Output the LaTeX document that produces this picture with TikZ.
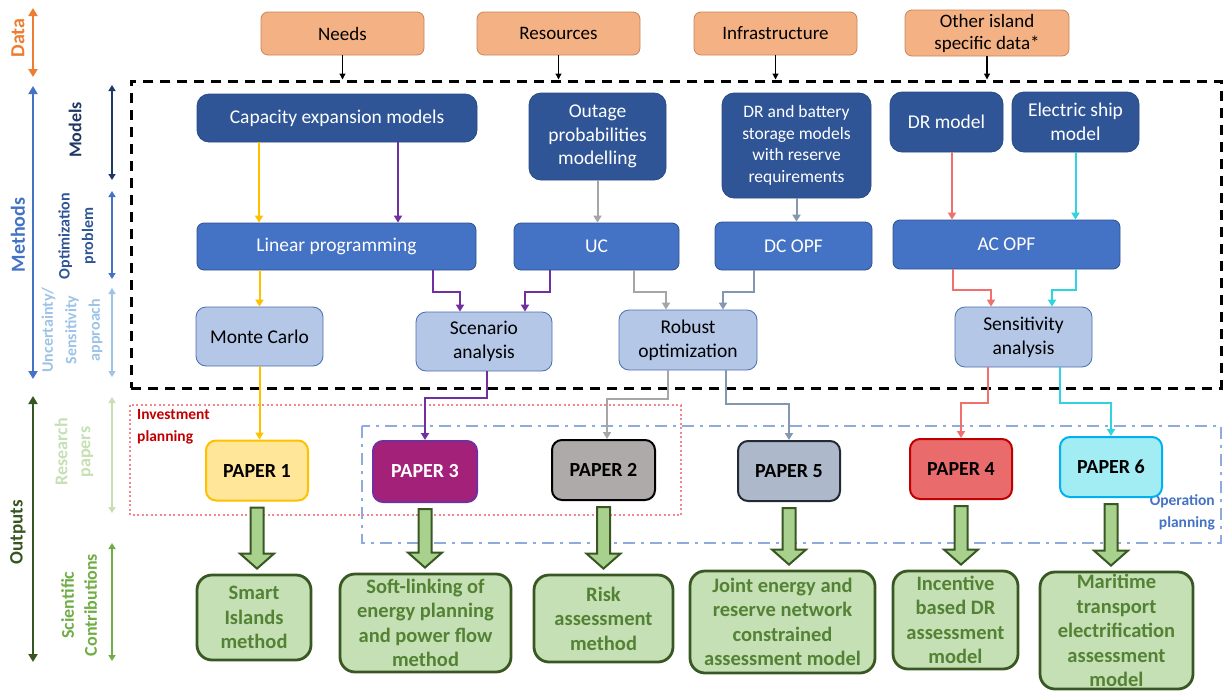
\documentclass[tikz,border=0pt]{standalone}
\usepackage{fontspec}
\setmainfont{Carlito}
\usetikzlibrary{arrows.meta,calc}
\definecolor{datafill}{HTML}{F4B183}
\definecolor{dataline}{HTML}{C9845A}
\definecolor{modfill}{HTML}{2F5597}
\definecolor{modline}{HTML}{2A4B84}
\definecolor{optfill}{HTML}{4472C4}
\definecolor{optline}{HTML}{2F528F}
\definecolor{uncfill}{HTML}{B4C7E7}
\definecolor{uncline}{HTML}{4A6DAF}
\definecolor{cfill}{HTML}{C5E0B4}
\definecolor{cline}{HTML}{385723}
\definecolor{ctext}{HTML}{548235}
\definecolor{arrfill}{HTML}{A9D18E}
\definecolor{cyel}{HTML}{FFC000}
\definecolor{cpur}{HTML}{7030A0}
\definecolor{cgray}{HTML}{A6A6A6}
\definecolor{cbgray}{HTML}{8497B0}
\definecolor{csal}{HTML}{F0706B}
\definecolor{ccyan}{HTML}{30D4DE}
\definecolor{p1fill}{HTML}{FFE699}
\definecolor{p3fill}{HTML}{A4217A}
\definecolor{p2fill}{HTML}{AEAAAA}
\definecolor{p5fill}{HTML}{ADB9CA}
\definecolor{p5line}{HTML}{222A35}
\definecolor{p4fill}{HTML}{EA6B6B}
\definecolor{p4line}{HTML}{C00000}
\definecolor{p6fill}{HTML}{A1EDF3}
\definecolor{p6line}{HTML}{00B0F0}
\definecolor{invred}{HTML}{C00000}
\definecolor{invbox}{HTML}{F4858A}
\definecolor{opblue}{HTML}{4472C4}
\definecolor{opbox}{HTML}{8FAADC}
\definecolor{axdata}{HTML}{ED7D31}
\definecolor{axmeth}{HTML}{4472C4}
\definecolor{axout}{HTML}{375623}
\definecolor{axmod}{HTML}{203864}
\definecolor{axopt}{HTML}{2F5597}
\definecolor{axunc}{HTML}{9DC3E6}
\definecolor{axres}{HTML}{C5E0B4}
\definecolor{axsci}{HTML}{70AD47}
\newcommand\fsz[2]{\fontsize{#1pt}{#2pt}\selectfont}
\newcommand\blockarr[2]{\draw[bigarr] let \p1=(#1.south), \p2=(#2.north) in
  (\x1-6.5pt,\y1-6pt) -- (\x1+6.5pt,\y1-6pt) -- (\x1+6.5pt,\y2+20pt) -- (\x1+17pt,\y2+20pt)
  -- (\x1,\y2+5pt) -- (\x1-17pt,\y2+20pt) -- (\x1-6.5pt,\y2+20pt) -- cycle;}
\tikzset{
  sz/.style 2 args={minimum width=#1pt, minimum height=#2pt},
  databox/.style={draw=dataline, fill=datafill, line width=0.8pt, rounded corners=7pt, font=\fsz{19}{22}, align=center, inner sep=0pt},
  modelbox/.style={draw=modline, fill=modfill, line width=0.8pt, rounded corners=12pt, text=white, font=\fsz{19.5}{23.5}, align=center, inner sep=0pt},
  optbox/.style={draw=optline, fill=optfill, line width=0.8pt, rounded corners=7pt, text=white, font=\fsz{19.5}{23.5}, align=center, inner sep=0pt},
  uncbox/.style={draw=uncline, fill=uncfill, line width=0.8pt, rounded corners=10pt, text=black, font=\fsz{19.5}{24}, align=center, inner sep=0pt},
  paper/.style={line width=2pt, rounded corners=10pt, font=\bfseries\fsz{20}{22}, sz={102}{60}, align=center, inner sep=0pt},
  contrib/.style={draw=cline, fill=cfill, line width=2.8pt, rounded corners=15pt, text=ctext, font=\bfseries\fsz{20.5}{24.5}, align=center, inner sep=0pt},
  conn/.style={line width=2pt, -{Triangle[length=7pt,width=8pt]}},
  dataarr/.style={line width=1.2pt, -{Triangle[length=6pt,width=6pt]}},
  bigarr/.style={draw=cline, fill=arrfill, line width=2pt, line join=miter},
  axisarr/.style={line width=2.5pt, {Triangle[length=8pt,width=9pt]}-{Triangle[length=8pt,width=9pt]}},
  subarr/.style={line width=1.6pt, {Triangle[length=6pt,width=7pt]}-{Triangle[length=6pt,width=7pt]}},
  axislabel/.style={rotate=90, font=\bfseries\fsz{20}{22}, align=center, inner sep=0pt},
  sublabel/.style={rotate=90, font=\bfseries\fsz{18}{23}, align=center, inner sep=0pt},
  sublabelsm/.style={rotate=90, font=\bfseries\fsz{16}{23.5}, align=center, inner sep=0pt},
  planlabel/.style={font=\bfseries\fsz{15.5}{22.5}, inner sep=0pt},
}
\begin{document}
\begin{tikzpicture}[x=1pt,y=-1pt]
\useasboundingbox (0,0) rectangle (1224,691);

% ---- left axis ----
\coordinate (da1) at (33,8);   \coordinate (da2) at (33,77);
\coordinate (me1) at (33,86);  \coordinate (me2) at (33,379);
\coordinate (ou1) at (33,396); \coordinate (ou2) at (33,662);
\draw[axisarr, axdata] (da1) -- (da2);
\draw[axisarr, axmeth] (me1) -- (me2);
\draw[axisarr, axout] (ou1) -- (ou2);
\node[axislabel, text=axdata] (lData) at (18,38) {Data};
\node[axislabel, text=axmeth] (lMeth) at (18,235) {Methods};
\node[axislabel, text=axout, font=\bfseries\fsz{19}{22}] (lOut) at (18,532) {Outputs};

\coordinate (sm1) at (112,85);  \coordinate (sm2) at (112,180);
\coordinate (so1) at (112,191); \coordinate (so2) at (112,279);
\coordinate (su1) at (112,288); \coordinate (su2) at (112,377);
\coordinate (sr1) at (112,397); \coordinate (sr2) at (112,513);
\coordinate (ss1) at (112,543); \coordinate (ss2) at (112,661);
\draw[subarr, axmod] (sm1) -- (sm2);
\draw[subarr, axmeth] (so1) -- (so2);
\draw[subarr, axunc] (su1) -- (su2);
\draw[subarr, axres] (sr1) -- (sr2);
\draw[subarr, axsci] (ss1) -- (ss2);
\node[sublabel, text=axmod] (lMod) at (75,130) {Models};
\node[sublabelsm, text=axopt] (lOpt) at (77,236) {Optimization\\problem};
\node[sublabelsm, text=axunc] (lUnc) at (72,330) {Uncertainty/\\Sensitivity\\approach};
\node[sublabel, text=axres] (lRes) at (74,452) {Research\\papers};
\node[sublabel, text=axsci] (lSci) at (79,605) {Scientific\\Contributions};

% ---- planning frames ----
\draw[invbox, line width=2pt, dash pattern=on 2pt off 2.5pt] (130,405) rectangle (681,515);
\draw[opbox, line width=2pt, dash pattern=on 12pt off 6pt on 3pt off 6pt] (362,426) rectangle (1221,543);
\node[planlabel, text=invred, anchor=north west, align=left] (linv) at (137,409) {Investment\\planning};
\node[planlabel, text=opblue, anchor=north east, align=right] (lop) at (1215,494) {Operation\\planning};

% ---- methods frame ----
\node[draw=black, line width=3pt, dash pattern=on 10pt off 7pt, sz={1090}{307}, inner sep=0pt] (meth) at (676,234.5) {};

% ---- data ----
\node[databox, sz={163}{43}] (d1) at (342.5,33.5) {Needs};
\node[databox, sz={163}{43}] (d2) at (558.5,33.5) {Resources};
\node[databox, sz={163}{43}] (d3) at (775.5,33.5) {Infrastructure};
\node[databox, sz={164}{46}] (d4) at (987,33) {Other island\\specific data*};
\foreach \n in {d1,d2,d3,d4} \draw[dataarr] (\n.south) -- (\n.south |- meth.north);

% ---- models ----
\node[modelbox, sz={280}{48}] (m1) at (337,118) {Capacity expansion models};
\node[modelbox, sz={137}{87}] (m2) at (597.5,136.5) {Outage\\probabilities\\modelling};
\node[modelbox, sz={149}{105}, font=\fsz{17.5}{21.5}] (m3) at (796.5,145.5) {DR and battery\\storage models\\with reserve\\requirements};
\node[modelbox, sz={113}{60}] (m4) at (946.5,122) {DR model};
\node[modelbox, sz={127}{60}] (m5) at (1075.5,122) {Electric ship\\model};

% ---- optimization ----
\node[optbox, sz={279}{47}] (o1) at (336.5,246.5) {Linear programming};
\node[optbox, sz={165}{47}] (o2) at (596.5,246.5) {UC};
\node[optbox, sz={157}{48}] (o3) at (793.5,246) {DC OPF};
\node[optbox, sz={227}{49}] (o4) at (1006.5,244.5) {AC OPF};

% ---- uncertainty ----
\node[uncbox, sz={127}{59}] (u1) at (259.5,336.5) {Monte Carlo};
\node[uncbox, sz={136}{59}] (u2) at (484,341.5) {Scenario\\analysis};
\node[uncbox, sz={138}{60}] (u3) at (688,340) {Robust\\optimization};
\node[uncbox, sz={137}{60}] (u4) at (1023.5,337) {Sensitivity\\analysis};

% ---- papers ----
\node[paper, draw=cyel, fill=p1fill] (p1) at (257,470.5) {PAPER 1};
\node[paper, draw=cpur, fill=p3fill, text=white, sz={104}{61}] (p3) at (425,471.5) {PAPER 3};
\node[paper, draw=black, fill=p2fill, sz={103}{60}] (p2) at (603.5,470) {PAPER 2};
\node[paper, draw=p5line, fill=p5fill] (p5) at (789,471) {PAPER 5};
\node[paper, draw=p4line, fill=p4fill] (p4) at (961,469) {PAPER 4};
\node[paper, draw=p6line, fill=p6fill] (p6) at (1111,467) {PAPER 6};

% ---- contributions ----
\node[contrib, sz={114}{85}] (c1) at (254,617.5) {Smart\\Islands\\method};
\node[contrib, sz={171}{98}] (c3) at (425.5,623) {Soft-linking of\\energy planning\\and power flow\\method};
\node[contrib, sz={139}{87}] (c2) at (603.5,618.5) {Risk\\assessment\\method};
\node[contrib, sz={185}{102}] (c5) at (782.5,622) {Joint energy and\\reserve network\\constrained\\assessment model};
\node[contrib, sz={125}{98}] (c4) at (955.5,620) {Incentive\\based DR\\assessment\\model};
\node[contrib, sz={153}{117}] (c6) at (1116.5,630.5) {Maritime\\transport\\electrification\\assessment\\model};

% ---- connectors ----
% yellow
\draw[conn, cyel] ([xshift=-78pt]m1.south) -- ([xshift=-78pt]m1.south |- o1.north);
\draw[conn, cyel] (u1.north |- o1.south) -- (u1.north);
\draw[conn, cyel] (u1.south) -- (u1.south |- p1.north);
% purple
\draw[conn, cpur] ([xshift=61pt]m1.south) -- ([xshift=61pt]m1.south |- o1.north);
\draw[conn, cpur] ([xshift=96.5pt]o1.south) -- ++(0,22) -| ([xshift=-24pt]u2.north);
\draw[conn, cpur] ([xshift=-46.5pt]o2.south) -- ++(0,22) -| ([xshift=41pt]u2.north);
\draw[conn, cpur] ([xshift=3pt]u2.south) -- ++(0,27) -| (p3.north);
% gray
\draw[conn, cgray] (m2.south) -- (m2.south |- o2.north);
\draw[conn, cgray] ([xshift=37.5pt]o2.south) -- ++(0,22) -| ([xshift=-22pt]u3.north);
\draw[conn, cgray] ([xshift=-20pt]u3.south) -- ++(0,29) -| ([xshift=3.5pt]p2.north);
% blue-gray
\draw[conn, cbgray] (m3.south) -- (m3.south |- o3.north);
\draw[conn, cbgray] ([xshift=-39.5pt]o3.south) -- ++(0,22) -| ([xshift=35pt]u3.north);
\draw[conn, cbgray] ([xshift=38pt]u3.south) -- ++(0,34) -| (p5.north);
% salmon
\draw[conn, csal] ([xshift=5.5pt]m4.south) -- ([xshift=5.5pt]m4.south |- o4.north);
\draw[conn, csal] ([xshift=-53.5pt]o4.south) -- ++(0,21) -| ([xshift=-32.5pt]u4.north);
\draw[conn, csal] ([xshift=-35.5pt]u4.south) -- ++(0,36) -| (p4.north);
% cyan
\draw[conn, ccyan] (m5.south) -- (m5.south |- o4.north);
\draw[conn, ccyan] ([xshift=69.5pt]o4.south) -- ++(0,21) -| ([xshift=28.5pt]u4.north);
\draw[conn, ccyan] ([xshift=36.5pt]u4.south) -- ++(0,36) -| (p6.north);

% ---- block arrows ----
\blockarr{p1}{c1}
\blockarr{p3}{c3}
\blockarr{p2}{c2}
\blockarr{p5}{c5}
\blockarr{p4}{c4}
\blockarr{p6}{c6}
\end{tikzpicture}
\end{document}
